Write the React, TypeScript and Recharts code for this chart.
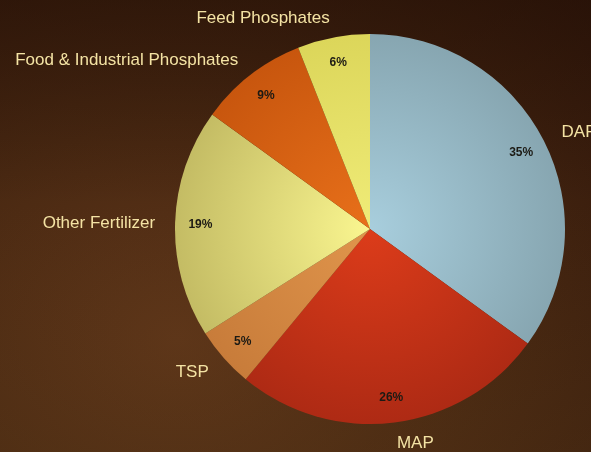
import React from "react";
import { PieChart, Pie, Cell } from "recharts";

const categories = ["DAP", "MAP", "TSP", "Other Fertilizer", "Food & Industrial Phosphates", "Feed Phosphates"];
const shares = [35, 26, 5, 19, 9, 6];
const innerColors = ["#a8cedd", "#dc3c1a", "#e0954c", "#faf690", "#e8701a", "#f0ec78"];
const outerColors = ["#87a6b1", "#ae2a14", "#c87c3a", "#c4bc64", "#c8560e", "#dcd65a"];

const data = categories.map((name, i) => ({ name, value: shares[i] }));

const RAD = Math.PI / 180;
const CX = 370;
const CY = 229;
const R = 195;

const renderLabel = (props: any) => {
  const { cx, cy, midAngle, outerRadius, index, value } = props;
  const cos = Math.cos(-midAngle * RAD);
  const sin = Math.sin(-midAngle * RAD);
  const ri = outerRadius * 0.87;
  const ro = outerRadius + 20;
  const xi = cx + ri * cos;
  const yi = cy + ri * sin;
  const xo = cx + ro * cos;
  const yo = cy + ro * sin;
  const anchor = cos >= 0 ? "start" : "end";
  return (
    <g>
      <text
        x={xi}
        y={yi}
        textAnchor="middle"
        dominantBaseline="central"
        fontFamily="Liberation Sans, Arial, sans-serif"
        fontWeight="bold"
        fontSize={12}
        fill="#1c1a14"
        style={{ filter: "blur(0.3px)" }}
      >
        {value}%
      </text>
      <text
        x={xo}
        y={yo}
        textAnchor={anchor}
        dominantBaseline="central"
        fontFamily="Liberation Sans, Arial, sans-serif"
        fontSize={17}
        fill="#f4e3a4"
      >
        {data[index].name}
      </text>
    </g>
  );
};

export default function App() {
  return (
    <div
      style={{
        position: "fixed",
        left: 0,
        top: 0,
        width: 591,
        height: 452,
        overflow: "hidden",
        background:
          "radial-gradient(ellipse at 30% 75%, #5e3519 0%, #4a2912 45%, #32180b 100%)",
      }}
    >
      <div
        style={{
          position: "absolute",
          inset: 0,
          background:
            "linear-gradient(180deg, rgba(30,12,4,0.45) 0%, rgba(30,12,4,0) 45%, rgba(90,60,25,0.25) 100%)",
        }}
      />
      <div style={{ position: "absolute", left: 0, top: 0 }}>
        <PieChart width={591} height={452} margin={{ top: 0, right: 0, bottom: 0, left: 0 }}>
          <defs>
            {innerColors.map((c, i) => (
              <radialGradient
                key={i}
                id={`g${i}`}
                gradientUnits="userSpaceOnUse"
                cx={CX}
                cy={CY}
                r={R}
              >
                <stop offset="0%" stopColor={c} />
                <stop offset="100%" stopColor={outerColors[i]} />
              </radialGradient>
            ))}
          </defs>
          <Pie
            data={data}
            dataKey="value"
            nameKey="name"
            cx={CX}
            cy={CY}
            outerRadius={R}
            startAngle={90}
            endAngle={-270}
            stroke="none"
            label={renderLabel}
            labelLine={false}
            isAnimationActive={false}
          >
            {data.map((d, i) => (
              <Cell key={d.name} fill={`url(#g${i})`} />
            ))}
          </Pie>
        </PieChart>
      </div>
    </div>
  );
}
